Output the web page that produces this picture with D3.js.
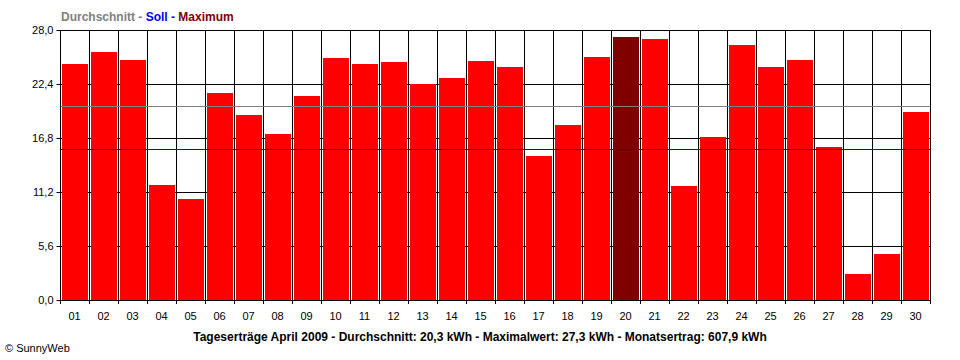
<!DOCTYPE html>
<html><head><meta charset="utf-8">
<script src="https://cdn.jsdelivr.net/npm/d3@7"></script>
<style>html,body{margin:0;padding:0;background:#fff;}svg{display:block;}</style>
</head><body>
<svg id="c" width="960" height="360"></svg>
<script>
const days = ["01","02","03","04","05","06","07","08","09","10","11","12","13","14","15","16","17","18","19","20","21","22","23","24","25","26","27","28","29","30"];
const yields = [24.5,25.7,24.9,11.9,10.5,21.5,19.2,17.2,21.2,25.1,24.5,24.7,22.4,23.0,24.8,24.2,14.9,18.1,25.2,27.3,27.1,11.8,16.9,26.4,24.2,24.9,15.9,2.7,4.8,19.5];
const yTicks = [0,5.6,11.2,16.8,22.4,28.0];
const averageLine = 20.1;
const sollLine = 15.7;
const maxDay = "20";
const legendParts = [["Durchschnitt - ","#808080"],["Soll - ","#0000ff"],["Maximum","#800000"]];
const footer = "Tageserträge April 2009 - Durchschnitt: 20,3 kWh - Maximalwert: 27,3 kWh - Monatsertrag: 607,9 kWh";
const copyright = "© SunnyWeb";

const svg = d3.select("#c");
const L = 60, R = 930, T = 30, B = 300;
const x = d3.scaleBand().domain(days).range([L, R]).padding(0);
const y = d3.scaleLinear().domain([0, 28]).range([B, T]);
const font = "'Liberation Sans', Arial, sans-serif";
const fmt = d => d.toFixed(1).replace(".", ",");

// horizontal grid
svg.append("g").selectAll("line").data(yTicks).join("line")
  .attr("x1", L).attr("x2", R)
  .attr("y1", d => Math.round(y(d)) + 0.5).attr("y2", d => Math.round(y(d)) + 0.5)
  .attr("stroke", "#000").attr("stroke-width", 1);

// vertical grid at band boundaries
const bounds = days.map(d => x(d)).concat([R]);
svg.append("g").selectAll("line").data(bounds).join("line")
  .attr("x1", d => Math.round(d) + 0.5).attr("x2", d => Math.round(d) + 0.5)
  .attr("y1", T).attr("y2", B + 4)
  .attr("stroke", "#000").attr("stroke-width", 1);

// bars
svg.append("g").selectAll("rect").data(days).join("rect")
  .attr("x", d => Math.round(x(d)) + 2)
  .attr("width", x.bandwidth() - 3)
  .attr("y", (d, i) => Math.round(y(yields[i])))
  .attr("height", (d, i) => B - Math.round(y(yields[i])))
  .attr("fill", d => d === maxDay ? "#800000" : "#ff0000");

// average and soll lines
[[averageLine, "#808080"], [sollLine, "#0000ff"]].forEach(([v, c]) => {
  svg.append("line").attr("x1", L).attr("x2", R)
    .attr("y1", Math.round(y(v)) + 0.5).attr("y2", Math.round(y(v)) + 0.5)
    .attr("stroke", c).attr("stroke-width", 1);
});

// axes lines
svg.append("line").attr("x1", L + 0.5).attr("x2", L + 0.5).attr("y1", T).attr("y2", B + 4).attr("stroke", "#000");
svg.append("line").attr("x1", L).attr("x2", R + 1).attr("y1", B + 0.5).attr("y2", B + 0.5).attr("stroke", "#000");

// y axis
const yAxis = d3.axisLeft(y).tickValues(yTicks).tickFormat(fmt).tickSize(4).tickPadding(3);
const gy = svg.append("g").attr("transform", `translate(${L + 0.5},0)`).call(yAxis);
gy.select(".domain").remove();
gy.selectAll("text").attr("font-family", font).attr("font-size", 11).attr("fill", "#000");
gy.selectAll(".tick line").attr("stroke", "#000");

// x axis labels
const xAxis = d3.axisBottom(x).tickSize(0).tickPadding(12);
const gx = svg.append("g").attr("transform", `translate(0,${B})`).call(xAxis);
gx.select(".domain").remove();
gx.selectAll("text").attr("font-family", font).attr("font-size", 11).attr("fill", "#000");

// legend
const lg = svg.append("text").attr("x", 61).attr("y", 21)
  .attr("font-family", font).attr("font-size", 12).attr("font-weight", "bold");
legendParts.forEach(([t, c]) => lg.append("tspan").attr("fill", c).text(t));

// footer
svg.append("text").attr("x", 480).attr("y", 341).attr("text-anchor", "middle")
  .attr("font-family", font).attr("font-size", 12).attr("font-weight", "bold").attr("fill", "#000")
  .text(footer);
svg.append("text").attr("x", 5).attr("y", 352)
  .attr("font-family", font).attr("font-size", 11).attr("fill", "#000")
  .text(copyright);
</script>
</body></html>
